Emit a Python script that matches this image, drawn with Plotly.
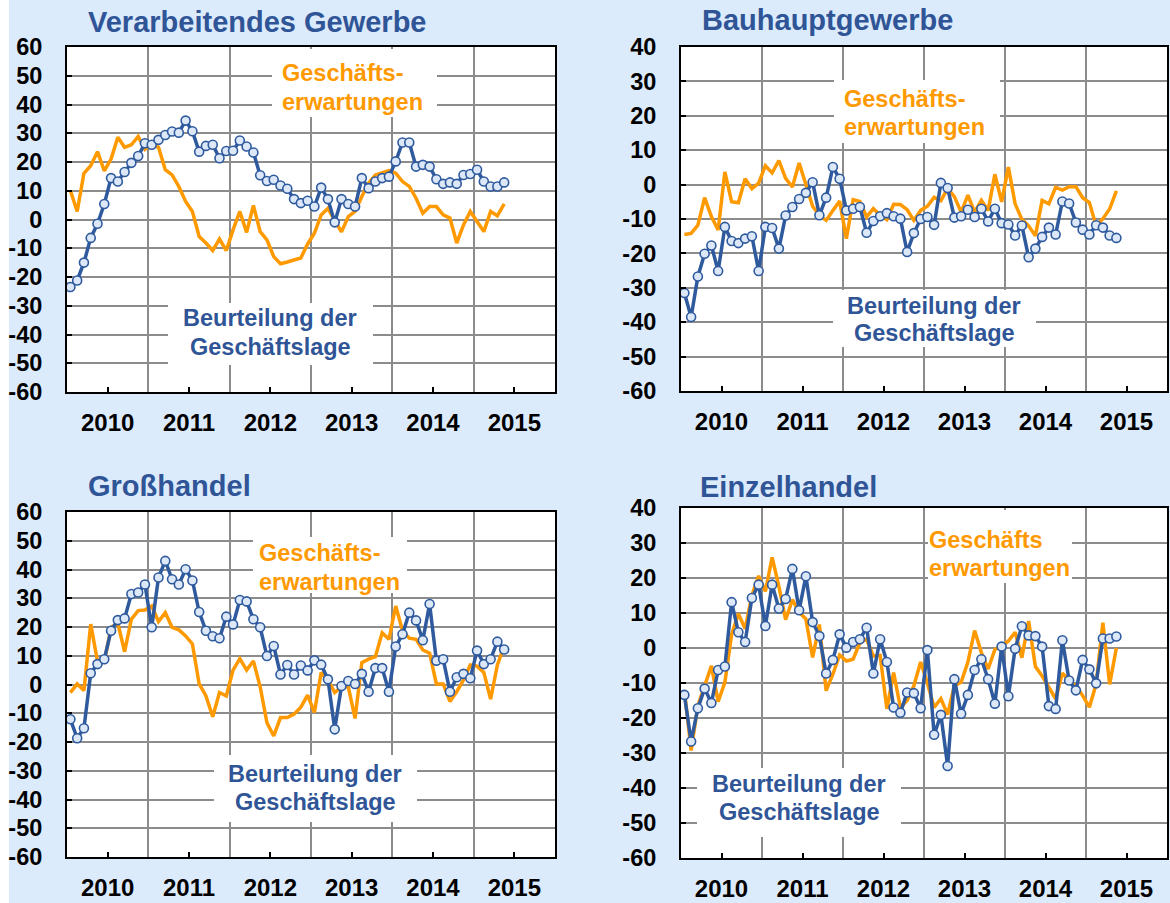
import pandas as pd
import plotly.graph_objects as go

# ---------------- data (monthly, Jan 2010 - May 2015) ----------------
months = pd.date_range("2010-01-01", periods=65, freq="MS")

years = [2010, 2011, 2012, 2013, 2014, 2015]

vg_lage = [-23.5, -21.2, -15.0, -6.4, -1.5, 5.4, 14.4, 13.2, 16.5, 19.7,
           22.1, 26.5, 26.0, 27.7, 29.4, 30.6, 30.2, 34.4, 30.7, 23.6,
           25.6, 26.0, 21.3, 23.8, 23.9, 27.5, 25.4, 23.3, 15.4, 13.4,
           13.8, 11.8, 10.7, 7.1, 5.7, 6.5, 4.5, 11.1, 7.1, -1.0,
           7.1, 5.4, 4.5, 14.4, 10.9, 13.2, 14.4, 14.9, 20.2, 26.8,
           26.8, 18.4, 19.0, 18.4, 14.0, 12.4, 12.9, 12.4, 15.5, 15.8,
           17.3, 13.2, 11.5, 11.5, 12.9]
vg_erw = [10.1, 2.8, 16.1, 18.7, 23.6, 16.9, 21.0, 28.6, 25.1, 26.0,
          28.9, 24.4, 26.3, 25.1, 17.3, 15.5, 11.5, 6.3, 2.8, -5.9,
          -8.2, -10.8, -6.8, -10.8, -3.6, 2.8, -4.5, 4.9, -4.2, -7.1,
          -12.9, -15.4, -14.8, -14.0, -13.4, -8.5, -4.8, 1.6, 3.9, -0.3,
          -4.3, 1.0, 2.8, 8.0, 12.6, 15.5, 16.3, 17.0, 16.1, 13.2,
          11.5, 7.4, 2.2, 4.5, 4.5, 1.6, 0.5, -8.2, -1.9, 2.8,
          -0.7, -4.2, 2.8, 1.3, 5.4]

bau_lage = [-31.5, -38.5, -26.7, -20.1, -17.7, -25.1, -12.3, -16.4, -17.0, -15.7,
            -15.0, -25.1, -12.3, -12.6, -18.6, -9.0, -6.5, -4.2, -2.4, 0.7,
            -8.9, -3.8, 5.1, 1.7, -7.5, -7.0, -6.5, -14.0, -10.6, -9.2,
            -8.3, -9.2, -9.9, -19.6, -14.1, -10.0, -9.4, -11.7, 0.5, -1.0,
            -9.6, -9.2, -7.3, -9.4, -7.0, -10.7, -7.0, -11.2, -11.6, -14.8,
            -11.9, -21.1, -18.6, -15.2, -12.5, -14.5, -4.9, -5.5, -11.0, -13.1,
            -14.5, -11.8, -12.5, -14.8, -15.5]
bau_erw = [-14.5, -14.2, -11.8, -3.8, -9.3, -13.2, 3.7, -5.0, -5.3, 1.7,
           -1.2, 0.4, 5.5, 3.4, 7.0, 1.8, -0.7, 6.3, 0.0, -6.3,
           -9.0, -10.4, -7.5, -4.8, -15.7, -4.4, -4.9, -9.4, -7.0, -8.9,
           -10.2, -5.7, -5.8, -7.3, -10.4, -7.5, -6.3, -3.7, -4.7, -1.1,
           -3.5, -8.0, -3.1, -8.0, -4.6, -7.5, 3.0, -5.0, 5.1, -5.6,
           -10.1, -12.0, -14.9, -4.6, -5.6, -0.8, -1.6, -0.6, -0.6, -3.8,
           -5.2, -12.0, -9.9, -7.1, -1.8]

gh_lage = [-12.1, -18.7, -15.2, 3.9, 7.1, 8.8, 18.7, 22.4, 23.0, 31.5,
           32.0, 34.8, 19.9, 37.2, 43.0, 36.6, 34.8, 40.1, 36.2, 25.2,
           18.7, 16.8, 16.1, 23.6, 20.9, 29.4, 28.9, 22.7, 19.9, 9.9,
           13.4, 3.5, 6.8, 3.5, 6.6, 4.9, 8.4, 6.9, 1.8, -15.6,
           -0.5, 1.2, 0.2, 3.7, -2.5, 5.7, 5.7, -2.5, 13.2, 17.5,
           25.0, 22.3, 15.4, 28.0, 8.3, 8.8, -2.5, 2.5, 3.7, 2.2,
           11.8, 7.1, 8.8, 14.9, 12.2]
gh_erw = [-2.8, 0.2, -2.1, 21.0, 8.1, 7.7, 19.9, 21.3, 11.4, 22.7,
          25.7, 25.9, 27.3, 21.9, 25.0, 19.9, 19.0, 16.9, 14.1, 0.2,
          -4.0, -11.2, -2.8, -4.0, 5.0, 9.0, 5.0, 8.2, -0.8, -13.3,
          -17.9, -11.5, -11.5, -10.3, -7.9, -3.7, -9.7, 4.2, 1.6, -2.8,
          -0.8, -0.8, -11.8, 7.6, 8.8, 9.7, 18.0, 15.7, 27.3, 18.7,
          16.1, 15.7, 12.0, 10.9, 0.2, 0.2, -5.9, -2.5, 1.6, 6.8,
          6.4, 4.2, -5.1, 6.8, 13.4]

eh_lage = [-13.4, -26.7, -17.2, -11.6, -15.7, -6.3, -5.3, 13.1, 4.5, 1.7,
           14.3, 18.1, 6.3, 18.1, 11.3, 14.0, 22.6, 10.8, 20.5, 7.4,
           3.4, -7.3, -3.4, 3.9, 0.1, 1.7, 2.5, 5.8, -7.3, 2.5,
           -4.0, -17.0, -18.5, -12.7, -12.9, -17.2, -0.6, -24.8, -19.1, -33.7,
           -8.9, -18.8, -13.4, -6.3, -3.2, -8.9, -15.9, 0.4, -13.8, -0.2,
           6.2, 3.6, 3.4, 0.4, -16.6, -17.4, 2.2, -9.3, -12.1, -3.4,
           -6.1, -10.1, 2.7, 2.7, 3.3]
eh_erw = [-12.0, -29.3, -16.5, -10.8, -5.1, -15.3, -9.8, 3.9, 9.8, 5.5,
          15.0, 20.6, 16.2, 25.9, 17.6, 8.1, 13.8, 10.2, 8.3, -2.7,
          6.7, -12.2, -7.5, -2.0, -3.7, -3.2, 1.5, 2.5, -2.3, -2.1,
          -17.4, -7.0, -17.0, -15.0, -10.8, -4.0, -10.0, -17.0, -14.5, -19.0,
          -10.8, -9.8, -4.0, 5.0, -1.3, -6.0, -0.4, 0.5, 2.0, 4.5,
          -2.8, 7.7, -5.3, -8.0, -11.4, -14.5, -7.2, -9.3, -10.8, -13.6,
          -16.9, -10.3, 7.2, -10.4, 0.0]

# ---------------- styling ----------------
W, H = 1170, 903
BG = "#DCEBFC"
BLUE = "#2F5A9E"
TITLE_BLUE = "#2F5597"
ORANGE = "#FF9900"
MARKER_FILL = "#DCE8F8"
GRID = "#8C8C8C"
FONT = "Arial, Liberation Sans, sans-serif"


def fx(p):
    return p / W


def fy(p):
    return 1 - p / H


# x position: middle of each month, expressed in fractional years
xpos = [m.year + (m.month - 0.5) / 12 for m in months]

panels = [
    dict(title="Verarbeitendes Gewerbe", lage=vg_lage, erw=vg_erw,
         plot=(67, 47, 555, 392), ymin=-60, ymax=60, title_xy=(86, 22),
         erw_lines=["Geschäfts-", "erwartungen"], erw_x=280, erw_y=(73, 102),
         erw_box=(272, 49, 437, 117),
         lage_x=270, lage_y=(318, 347), lage_box=(168, 303, 373, 365)),
    dict(title="Bauhauptgewerbe", lage=bau_lage, erw=bau_erw,
         plot=(681, 47, 1167, 391), ymin=-60, ymax=40, title_xy=(700, 20),
         erw_lines=["Geschäfts-", "erwartungen"], erw_x=842, erw_y=(99, 127),
         erw_box=(834, 80, 1000, 143),
         lage_x=934, lage_y=(306, 333), lage_box=(833, 290, 1036, 347)),
    dict(title="Großhandel", lage=gh_lage, erw=gh_erw,
         plot=(67, 512, 555, 857), ymin=-60, ymax=60, title_xy=(86, 486),
         erw_lines=["Geschäfts-", "erwartungen"], erw_x=257, erw_y=(553, 582),
         erw_box=(253, 537, 407, 593),
         lage_x=315, lage_y=(774, 802), lage_box=(214, 755, 417, 822)),
    dict(title="Einzelhandel", lage=eh_lage, erw=eh_erw,
         plot=(681, 508, 1167, 858), ymin=-60, ymax=40, title_xy=(698, 487),
         erw_lines=["Geschäfts", "erwartungen"], erw_x=927, erw_y=(540, 568),
         erw_box=(928, 510, 1072, 583),
         lage_x=799, lage_y=(784, 812), lage_box=(697, 768, 901, 837)),
]

fig = go.Figure()
shapes = [dict(type="rect", xref="paper", yref="paper", x0=0, x1=fx(9), y0=0, y1=1,
               fillcolor="white", line=dict(width=0), layer="below")]
annotations = []

for k, p in enumerate(panels):
    n = "" if k == 0 else str(k + 1)
    xa, ya = "x" + n, "y" + n
    x0, y0, x1, y1 = p["plot"]

    fig.add_trace(go.Scatter(x=xpos, y=p["erw"], mode="lines",
                             line=dict(color=ORANGE, width=3.5),
                             xaxis=xa, yaxis=ya, showlegend=False))
    fig.add_trace(go.Scatter(x=xpos, y=p["lage"], mode="lines+markers",
                             line=dict(color=BLUE, width=3.5),
                             marker=dict(size=9, color=MARKER_FILL,
                                         line=dict(color=BLUE, width=1.6)),
                             xaxis=xa, yaxis=ya, showlegend=False))

    yvals = list(range(p["ymin"], p["ymax"] + 1, 10))
    fig.update_layout({
        "xaxis" + n: dict(
            domain=[fx(x0), fx(x1)], anchor=ya, range=[2010, 2016],
            tickmode="array", tickvals=[y + 0.5 for y in years],
            ticktext=[str(y) for y in years],
            ticks="inside", ticklen=5, tickwidth=2, tickcolor="black",
            showgrid=False, zeroline=False, automargin=False,
            minor=dict(tickvals=years[1:], showgrid=True, gridcolor=GRID,
                       gridwidth=1.6, ticks=""),
            showline=True, mirror=True, linecolor="black", linewidth=2,
            tickfont=dict(family=FONT, size=24, color="black", weight="bold"),
            ticklabelstandoff=8, fixedrange=True),
        "yaxis" + n: dict(
            domain=[fy(y1), fy(y0)], anchor=xa, range=[p["ymin"], p["ymax"]],
            tickmode="array", tickvals=yvals, ticktext=[str(v) for v in yvals],
            ticks="inside", ticklen=5, tickwidth=2, tickcolor="black",
            showgrid=True, gridcolor=GRID, gridwidth=1.6, zeroline=False,
            automargin=False,
            showline=True, mirror=True, linecolor="black", linewidth=2,
            tickfont=dict(family=FONT, size=23.5, color="black", weight="bold"),
            ticklabelstandoff=18, fixedrange=True),
    })

    # white label boxes
    for bx in (p["erw_box"], p["lage_box"]):
        shapes.append(dict(type="rect", xref="paper", yref="paper",
                           x0=fx(bx[0]), x1=fx(bx[2]), y0=fy(bx[3]), y1=fy(bx[1]),
                           fillcolor="white", line=dict(width=0), layer="above"))

    # title
    tx, ty = p["title_xy"]
    annotations.append(dict(text=p["title"], xref="paper", yref="paper",
                            x=fx(tx), y=fy(ty), xanchor="left", yanchor="middle",
                            showarrow=False,
                            font=dict(family=FONT, size=29, color=TITLE_BLUE, weight="bold")))
    # series labels
    for line, yy in zip(p["erw_lines"], p["erw_y"]):
        annotations.append(dict(text=line, xref="paper", yref="paper",
                                x=fx(p["erw_x"]), y=fy(yy), xanchor="left", yanchor="middle",
                                showarrow=False,
                                font=dict(family=FONT, size=23.5, color=ORANGE, weight="bold")))
    for line, yy in zip(["Beurteilung der", "Geschäftslage"], p["lage_y"]):
        annotations.append(dict(text=line, xref="paper", yref="paper",
                                x=fx(p["lage_x"]), y=fy(yy), xanchor="center", yanchor="middle",
                                showarrow=False,
                                font=dict(family=FONT, size=23.5, color=TITLE_BLUE, weight="bold")))

fig.update_layout(width=W, height=H, autosize=False,
                  margin=dict(l=0, r=0, t=0, b=0, pad=0, autoexpand=False),
                  paper_bgcolor=BG, plot_bgcolor="white",
                  shapes=shapes, annotations=annotations,
                  font=dict(family=FONT))

# place the figure flush with the page corner (no default body margin)
post = ("document.documentElement.style.margin='0';"
        "document.body.style.margin='0';document.body.style.padding='0';"
        "document.documentElement.style.overflow='hidden';"
        "document.body.style.overflow='hidden';"
        "var gd=document.getElementById('{plot_id}');"
        "gd.style.position='absolute';gd.style.left='0px';gd.style.top='0px';")

fig.write_html("out.html", post_script=post, config={"displayModeBar": False})
